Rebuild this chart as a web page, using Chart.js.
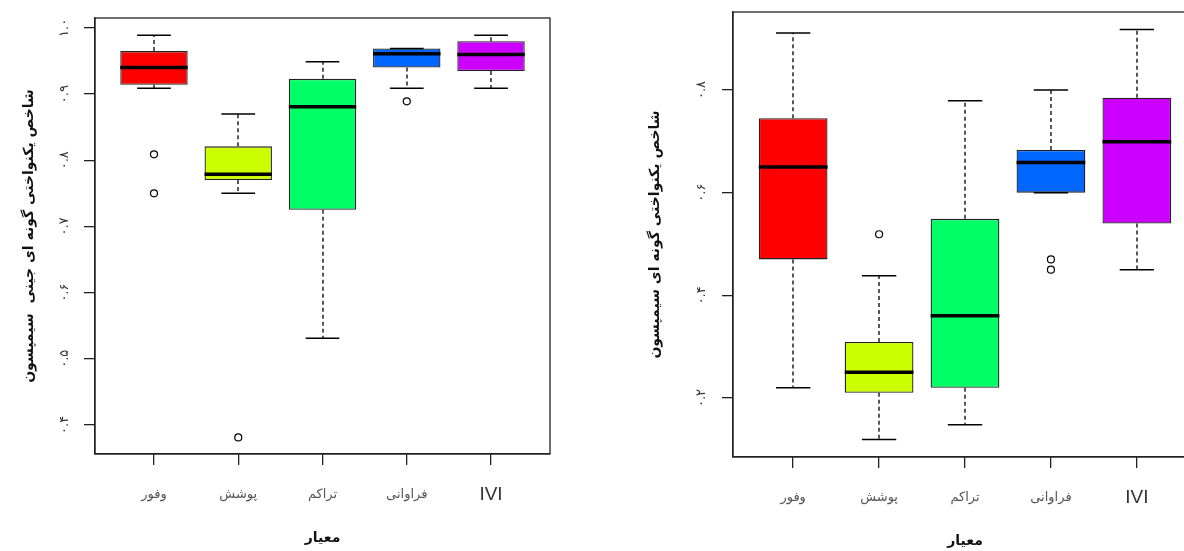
<!DOCTYPE html>
<html>
<head>
<meta charset="utf-8">
<script src="https://cdn.jsdelivr.net/npm/chart.js@4.4.0/dist/chart.umd.min.js"></script>
<style>
  html, body { margin: 0; padding: 0; background: #fff; overflow: hidden; width: 1184px; height: 551px; }
  canvas { position: absolute; top: 0; }
  #giniChart { left: 0; }
  #simpsonChart { left: 600px; }
</style>
</head>
<body>
<canvas id="giniChart" width="600" height="551"></canvas>
<canvas id="simpsonChart" width="620" height="551"></canvas>
<script>
const categories = ["وفور", "پوشش", "تراکم", "فراوانی", "IVI"];
const boxColors = ["#FF0000", "#CCFF00", "#00FF66", "#0066FF", "#CC00FF"];

// Gini-Simpson evenness
const giniLow = [0.909, 0.750, 0.531, 0.909, 0.909];
const giniQ1 = [0.914, 0.770, 0.725, 0.940, 0.935];
const giniMedian = [0.940, 0.779, 0.881, 0.961, 0.960];
const giniQ3 = [0.965, 0.821, 0.923, 0.969, 0.980];
const giniHigh = [0.989, 0.870, 0.949, 0.969, 0.989];
const giniOutliers = [[0.809, 0.750], [0.381], [], [0.889], []];
const giniTicks = [0.4, 0.5, 0.6, 0.7, 0.8, 0.9, 1.0];
const giniTickLabels = ["۰.۴", "۰.۵", "۰.۶", "۰.۷", "۰.۸", "۰.۹", "۱.۰"];

// Simpson evenness
const simpLow = [0.220, 0.119, 0.148, 0.600, 0.450];
const simpQ1 = [0.470, 0.210, 0.220, 0.600, 0.540];
const simpMedian = [0.650, 0.250, 0.360, 0.659, 0.699];
const simpQ3 = [0.745, 0.309, 0.549, 0.683, 0.785];
const simpHigh = [0.911, 0.438, 0.779, 0.800, 0.918];
const simpOutliers = [[], [0.519], [], [0.470, 0.450], []];
const simpTicks = [0.2, 0.4, 0.6, 0.8];
const simpTickLabels = ["۰.۲", "۰.۴", "۰.۶", "۰.۸"];

const xTitle = "معیار";
const persianFont = "'DejaVu Sans'";

function buildChart(canvasId, st, opts) {
  const positions = categories.map((c, i) => i + 1);
  const boxes = positions.map((x, i) => ({ x: x, y: [st.q1[i], st.q3[i]] }));
  const outlierPoints = [];
  st.outliers.forEach((vals, i) => vals.forEach((v) => outlierPoints.push({ x: i + 1, y: v })));

  // whiskers, caps, medians, frame and all text
  const boxExtras = {
    id: "boxExtras",
    afterDatasetsDraw(chart) {
      const ctx = chart.ctx;
      const xs = chart.scales.x;
      const ys = chart.scales.y;
      ctx.save();
      ctx.strokeStyle = "#000";
      positions.forEach((p, i) => {
        const cx = Math.round(xs.getPixelForValue(p));
        const capL = xs.getPixelForValue(p - 0.2);
        const capR = xs.getPixelForValue(p + 0.2);
        const yLow = ys.getPixelForValue(st.low[i]);
        const yQ1 = ys.getPixelForValue(st.q1[i]);
        const yQ3 = ys.getPixelForValue(st.q3[i]);
        const yHigh = ys.getPixelForValue(st.high[i]);
        ctx.lineWidth = 1.3;
        ctx.setLineDash([4, 3]);
        ctx.beginPath();
        ctx.moveTo(cx, yQ3);
        ctx.lineTo(cx, yHigh);
        ctx.moveTo(cx, yQ1);
        ctx.lineTo(cx, yLow);
        ctx.stroke();
        ctx.setLineDash([]);
        ctx.lineWidth = 1.5;
        ctx.beginPath();
        ctx.moveTo(capL, yHigh);
        ctx.lineTo(capR, yHigh);
        ctx.moveTo(capL, yLow);
        ctx.lineTo(capR, yLow);
        ctx.stroke();
        // median
        ctx.lineWidth = 3.5;
        ctx.beginPath();
        ctx.moveTo(xs.getPixelForValue(p - 0.4), ys.getPixelForValue(st.median[i]));
        ctx.lineTo(xs.getPixelForValue(p + 0.4), ys.getPixelForValue(st.median[i]));
        ctx.stroke();
      });
      ctx.restore();
    },
    afterDraw(chart) {
      const ctx = chart.ctx;
      const a = chart.chartArea;
      const xs = chart.scales.x;
      const ys = chart.scales.y;
      ctx.save();
      ctx.strokeStyle = "#222";
      ctx.lineWidth = 1.3;
      ctx.strokeRect(Math.round(a.left), Math.round(a.top),
        Math.round(a.right - a.left), Math.round(a.bottom - a.top));

      ctx.textAlign = "center";
      ctx.textBaseline = "middle";

      // y tick labels, turned to run along the axis
      ctx.fillStyle = "#333";
      ctx.font = "13px " + persianFont;
      opts.tickValues.forEach((v, i) => {
        ctx.save();
        ctx.translate(opts.tickLabelX, ys.getPixelForValue(v));
        ctx.rotate(-Math.PI / 2);
        ctx.fillText(opts.tickLabels[i], 0, 0);
        ctx.restore();
      });

      // category names
      categories.forEach((c, i) => {
        if (c === "IVI") {
          ctx.fillStyle = "#333";
          ctx.font = "19px 'Liberation Sans'";
        } else {
          ctx.fillStyle = "#555";
          ctx.font = "13px " + persianFont;
        }
        ctx.fillText(c, xs.getPixelForValue(i + 1), opts.catLabelY);
      });

      // axis titles
      ctx.fillStyle = "#111";
      ctx.font = "bold 14px " + persianFont;
      ctx.fillText(xTitle, (a.left + a.right) / 2, opts.xTitleY);
      ctx.save();
      ctx.translate(opts.yTitleX, (a.top + a.bottom) / 2);
      ctx.rotate(-Math.PI / 2);
      ctx.fillText(opts.yTitle, 0, 0);
      ctx.restore();
      ctx.restore();
    }
  };

  const axisGrid = { drawOnChartArea: false, drawTicks: true, tickLength: 11, color: "#222", lineWidth: 1.3, offset: false };

  return new Chart(document.getElementById(canvasId), {
    type: "bar",
    data: {
      datasets: [
        {
          data: boxes,
          backgroundColor: boxColors,
          borderColor: "#222",
          borderWidth: 1.3,
          borderSkipped: false,
          barPercentage: 0.8,
          categoryPercentage: 1.0,
        },
        {
          type: "scatter",
          data: outlierPoints,
          pointRadius: 3.5,
          pointBackgroundColor: "#fff",
          pointBorderColor: "#000",
          pointBorderWidth: 1.2,
        },
      ],
    },
    options: {
      responsive: false,
      animation: false,
      events: [],
      layout: { padding: opts.padding },
      plugins: {
        legend: { display: false },
        tooltip: { enabled: false },
      },
      scales: {
        x: {
          type: "linear",
          min: 0.3,
          max: 5.7,
          offset: false,
          afterBuildTicks: (scale) => { scale.ticks = positions.map((v) => ({ value: v })); },
          ticks: { display: false },
          grid: axisGrid,
          border: { display: true, color: "#222", width: 1.3 },
        },
        y: {
          type: "linear",
          min: opts.yMin,
          max: opts.yMax,
          afterBuildTicks: (scale) => { scale.ticks = opts.tickValues.map((v) => ({ value: v })); },
          ticks: { display: false },
          grid: axisGrid,
          border: { display: true, color: "#222", width: 1.3 },
        },
      },
    },
    plugins: [boxExtras],
  });
}

buildChart("giniChart",
  { low: giniLow, q1: giniQ1, median: giniMedian, q3: giniQ3, high: giniHigh, outliers: giniOutliers },
  {
    yMin: 0.356, yMax: 1.015,
    tickValues: giniTicks, tickLabels: giniTickLabels,
    padding: { left: 84, top: 18, right: 50, bottom: 86 },
    tickLabelX: 65, catLabelY: 495, xTitleY: 538, yTitleX: 29,
    yTitle: "شاخص یکنواختی گونه ای جینی  سیمپسون",
  });

buildChart("simpsonChart",
  { low: simpLow, q1: simpQ1, median: simpMedian, q3: simpQ3, high: simpHigh, outliers: simpOutliers },
  {
    yMin: 0.085, yMax: 0.952,
    tickValues: simpTicks, tickLabels: simpTickLabels,
    padding: { left: 122, top: 12, right: 23, bottom: 83 },
    tickLabelX: 102, catLabelY: 498, xTitleY: 541, yTitleX: 55,
    yTitle: "شاخص یکنواختی گونه ای سیمپسون",
  });
</script>
</body>
</html>
